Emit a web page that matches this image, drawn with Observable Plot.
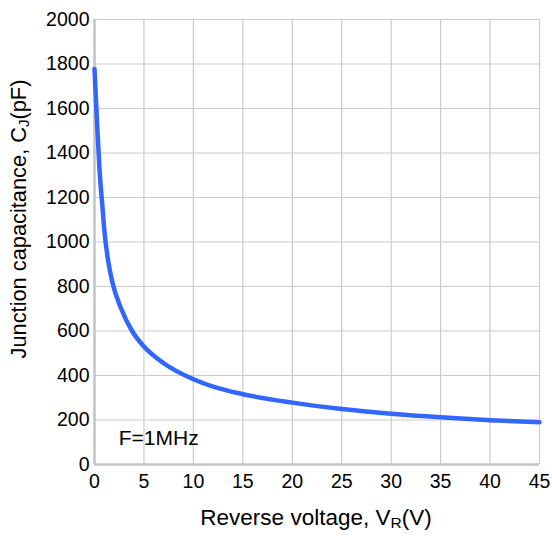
<!DOCTYPE html>
<html>
<head>
<meta charset="utf-8">
<script src="https://cdn.jsdelivr.net/npm/d3@7"></script>
<script src="https://cdn.jsdelivr.net/npm/@observablehq/plot@0.6"></script>
<style>
  body { margin: 0; background: #fff; }
  #chart svg { display: block; }
</style>
</head>
<body>
<div id="chart"></div>
<script>
// Reverse voltage (V) and junction capacitance (pF)
const voltage     = [0, 0.2, 0.5, 0.8, 1.0, 1.4, 1.8, 2.7, 3.8, 5, 7, 10, 12, 15, 20, 25, 30, 35, 40, 45];
const capacitance = [1778, 1590, 1330, 1160, 1050, 910, 820, 700, 600, 530, 455, 383, 350, 316, 278, 249, 228, 212, 199, 190];

const xTicks = [0, 5, 10, 15, 20, 25, 30, 35, 40, 45];
const yTicks = [0, 200, 400, 600, 800, 1000, 1200, 1400, 1600, 1800, 2000];

const annotation = ["F=1MHz"];
const annotationX = [2.45];
const annotationY = [120];

const xLabel = {main: "Reverse voltage, V", sub: "R", tail: "(V)"};
const yLabel = {main: "Junction capacitance, C", sub: "J", tail: "(pF)"};

const data = voltage.map((v, i) => ({v, c: capacitance[i]}));

const FONT = "'Liberation Sans', Arial, Helvetica, sans-serif";

const plot = Plot.plot({
  width: 552,
  height: 536,
  marginLeft: 94,
  marginRight: 13,
  marginTop: 19,
  marginBottom: 72,
  style: {fontFamily: FONT, fontSize: "19.5px", color: "#000", background: "#fff"},
  x: {domain: [0, 45]},
  y: {domain: [0, 2000]},
  marks: [
    Plot.ruleX(xTicks, {stroke: "#cccccc", strokeWidth: 1.2}),
    Plot.ruleY(yTicks, {stroke: "#cccccc", strokeWidth: 1.2}),
    Plot.ruleX([0], {stroke: "#c4c4c4", strokeWidth: 2.5}),
    Plot.ruleY([0], {stroke: "#c4c4c4", strokeWidth: 2.5}),
    Plot.axisX({ticks: xTicks, tickSize: 0, tickPadding: 10, label: null, fill: "#000"}),
    Plot.axisY({ticks: yTicks, tickSize: 0, tickPadding: 5, label: null, fill: "#000", tickFormat: d => String(d)}),
    Plot.line(data, {x: "v", y: "c", stroke: "#3366ff", strokeWidth: 4.5, curve: "monotone-x"}),
    Plot.text(annotation, {x: annotationX, y: annotationY, text: d => d, textAnchor: "start", fontSize: 21, fill: "#000"})
  ]
});

const svg = d3.select(plot);
const xl = svg.append("text")
  .attr("x", 316).attr("y", 525)
  .attr("text-anchor", "middle")
  .attr("font-family", FONT).attr("font-size", 22.5).attr("fill", "#000");
xl.append("tspan").text(xLabel.main);
xl.append("tspan").attr("font-size", 15.5).attr("dy", 3).text(xLabel.sub);
xl.append("tspan").attr("dy", -3).text(xLabel.tail);

const yl = svg.append("text")
  .attr("transform", "translate(26,219) rotate(-90)")
  .attr("text-anchor", "middle")
  .attr("font-family", FONT).attr("font-size", 21.8).attr("fill", "#000");
yl.append("tspan").text(yLabel.main);
yl.append("tspan").attr("font-size", 15).attr("dy", 3).text(yLabel.sub);
yl.append("tspan").attr("dy", -3).text(yLabel.tail);

document.getElementById("chart").appendChild(plot);
</script>
</body>
</html>
